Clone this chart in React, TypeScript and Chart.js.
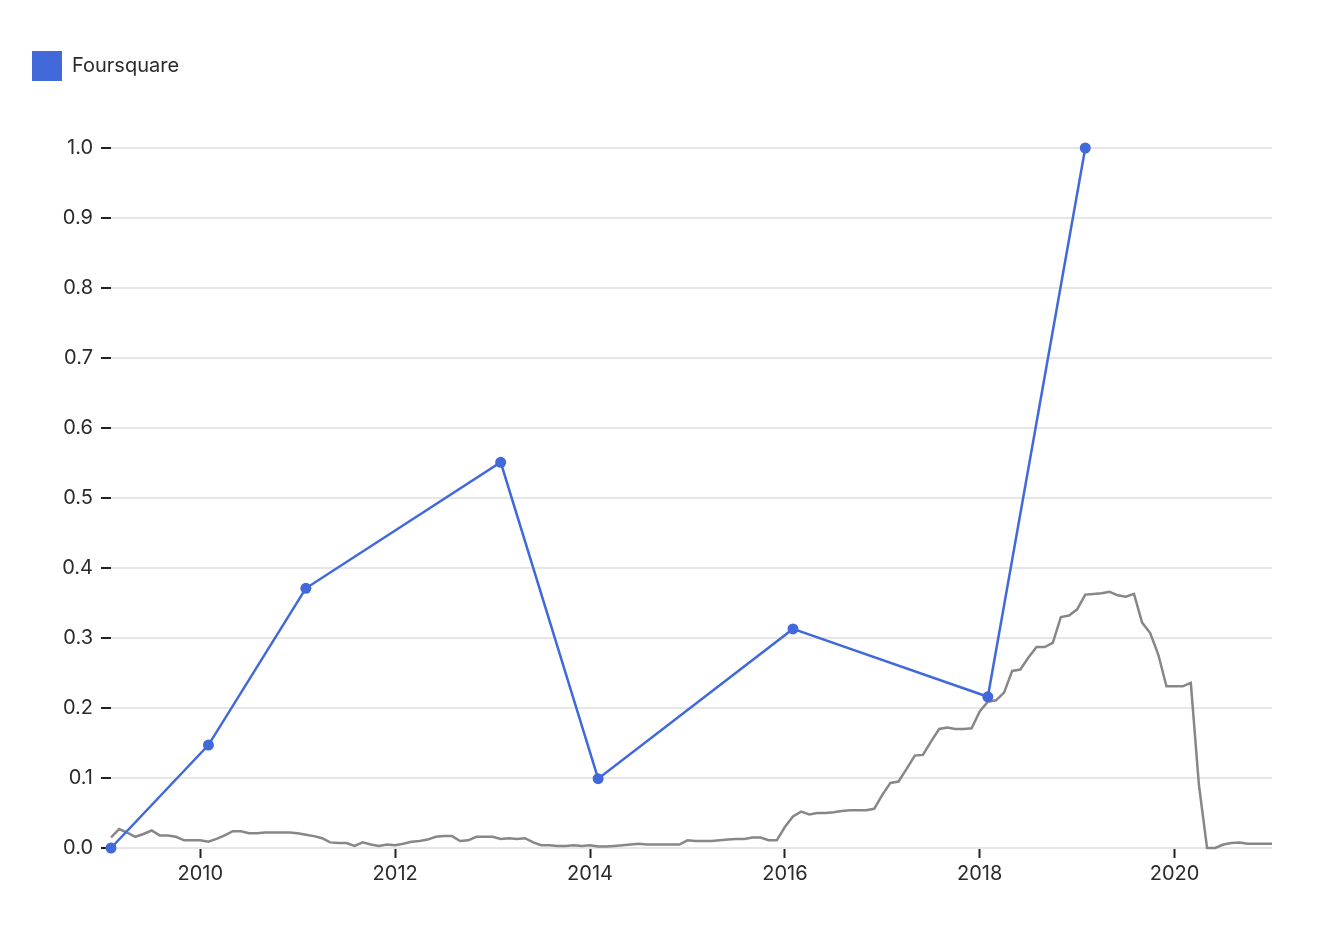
import React, { useEffect, useRef } from "react";
import { Chart, registerables } from "chart.js";

Chart.register(...registerables);

// ---- data ----
const seriesName = "Foursquare";
const blueYears = [2009, 2010, 2011, 2013, 2014, 2016, 2018, 2019];
const blueValues = [0, 0.147, 0.371, 0.551, 0.099, 0.313, 0.216, 1.0];

// monthly trend, starting February 2009
const trendStartYear = 2009;
const trendStartMonth = 2;
const trendValues = [
  0.015, 0.027, 0.022, 0.016, 0.020, 0.025, 0.018, 0.018, 0.016, 0.011, 0.011, 0.011,
  0.009, 0.013, 0.018, 0.024, 0.024, 0.021, 0.021, 0.022, 0.022, 0.022, 0.022, 0.021,
  0.019, 0.017, 0.014, 0.008, 0.007, 0.007, 0.003, 0.008, 0.005, 0.003, 0.005, 0.004,
  0.006, 0.009, 0.010, 0.012, 0.016, 0.017, 0.017, 0.010, 0.011, 0.016, 0.016, 0.016,
  0.013, 0.014, 0.013, 0.014, 0.008, 0.004, 0.004, 0.003, 0.003, 0.004, 0.003, 0.004,
  0.002, 0.002, 0.003, 0.004, 0.005, 0.006, 0.005, 0.005, 0.005, 0.005, 0.005, 0.011,
  0.010, 0.010, 0.010, 0.011, 0.012, 0.013, 0.013, 0.015, 0.015, 0.011, 0.011, 0.030,
  0.045, 0.052, 0.048, 0.050, 0.050, 0.051, 0.053, 0.054, 0.054, 0.054, 0.056, 0.076,
  0.093, 0.095, 0.113, 0.132, 0.133, 0.152, 0.170, 0.172, 0.170, 0.170, 0.171, 0.195,
  0.209, 0.211, 0.222, 0.253, 0.255, 0.272, 0.287, 0.287, 0.293, 0.330, 0.332, 0.341,
  0.362, 0.363, 0.364, 0.366, 0.361, 0.359, 0.363, 0.322, 0.307, 0.276, 0.231, 0.231,
  0.231, 0.236, 0.090, 0.0, 0.0, 0.005, 0.007, 0.008, 0.006, 0.006, 0.006, 0.006,
];

const xMin = 2009 + 1 / 12;
const xMax = 2021;
const xTickValues = [2010, 2012, 2014, 2016, 2018, 2020];
const yTickValues = [0, 0.1, 0.2, 0.3, 0.4, 0.5, 0.6, 0.7, 0.8, 0.9, 1.0];

const BLUE = "#4169da";
const GRAY = "#878787";
const TEXT = "#2b2b2b";
const FONT = "Inter, 'Noto Sans', sans-serif";

const monthToX = (year: number, month: number) => year + (month - 1) / 12;

const legendMargin = {
  id: "legendMargin",
  beforeInit(chart: any) {
    const orig = chart.legend.fit;
    chart.legend.fit = function fit() {
      orig.bind(chart.legend)();
      this.height += 57;
    };
  },
};

export default function App() {
  const ref = useRef<HTMLCanvasElement | null>(null);

  useEffect(() => {
    if (!ref.current) return;
    const bluePoints = blueYears.map((yr, i) => ({ x: monthToX(yr, 2), y: blueValues[i] }));
    const trendPoints = trendValues.map((v, i) => {
      const m = trendStartMonth - 1 + i;
      return { x: monthToX(trendStartYear + Math.floor(m / 12), (m % 12) + 1), y: v };
    });

    const chart = new Chart(ref.current, {
      type: "line",
      data: {
        datasets: [
          {
            label: seriesName,
            data: bluePoints,
            borderColor: BLUE,
            backgroundColor: BLUE,
            borderWidth: 2.5,
            pointRadius: 5.5,
            pointBorderWidth: 0,
            pointBackgroundColor: BLUE,
            tension: 0,
            clip: false,
            order: 0,
          },
          {
            label: "trend",
            data: trendPoints,
            borderColor: GRAY,
            backgroundColor: GRAY,
            borderWidth: 2.5,
            pointRadius: 0,
            tension: 0,
            clip: false,
            order: 1,
          },
        ],
      },
      options: {
        responsive: false,
        animation: false,
        layout: { padding: { top: 19, left: 0, right: 64, bottom: 0 } },
        plugins: {
          tooltip: { enabled: false },
          legend: {
            display: true,
            position: "top",
            align: "start",
            labels: {
              boxWidth: 30,
              boxHeight: 30,
              padding: 24,
              color: TEXT,
              font: { family: FONT, size: 20 },
              generateLabels: () => [
                {
                  text: seriesName,
                  fillStyle: BLUE,
                  strokeStyle: BLUE,
                  lineWidth: 0,
                  hidden: false,
                  datasetIndex: 0,
                  fontColor: TEXT,
                },
              ],
            },
          },
        },
        scales: {
          x: {
            type: "linear",
            min: xMin,
            max: xMax,
            afterBuildTicks: (scale: any) => {
              scale.ticks = xTickValues.map((v) => ({ value: v }));
            },
            afterFit: (scale: any) => {
              scale.height = 84;
            },
            border: { display: false },
            grid: {
              drawOnChartArea: false,
              drawTicks: true,
              tickLength: 10,
              tickColor: "#222",
              tickWidth: 2,
            },
            ticks: {
              color: TEXT,
              font: { family: FONT, size: 20 },
              padding: 4,
              maxRotation: 0,
              autoSkip: false,
              callback: (v: any) => String(v),
            },
          },
          y: {
            type: "linear",
            min: 0,
            max: 1,
            afterBuildTicks: (scale: any) => {
              scale.ticks = yTickValues.map((v) => ({ value: v }));
            },
            afterFit: (scale: any) => {
              scale.width = 103;
            },
            border: { display: false },
            grid: {
              color: "#e6e6e6",
              lineWidth: 2,
              drawTicks: true,
              tickLength: 10,
              tickColor: "#222",
              tickWidth: 2,
            },
            ticks: {
              color: TEXT,
              font: { family: FONT, size: 20 },
              padding: 8,
              autoSkip: false,
              callback: (v: any) => Number(v).toFixed(1),
            },
          },
        },
      },
      plugins: [legendMargin],
    });
    return () => chart.destroy();
  }, []);

  return (
    <div style={{ width: 1328, height: 924 }}>
      <canvas ref={ref} width={1328} height={924} style={{ display: "block" }} />
    </div>
  );
}
